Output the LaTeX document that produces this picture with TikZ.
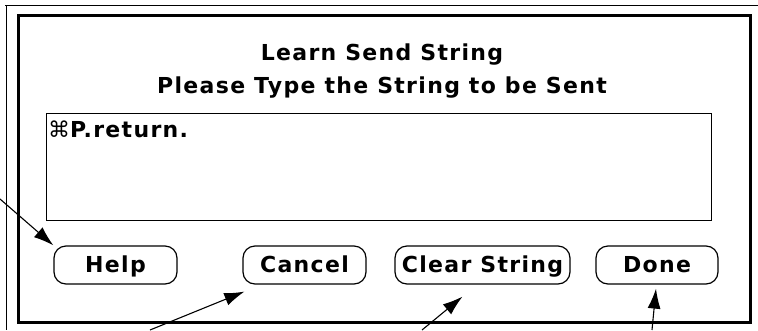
\documentclass[tikz,border=0pt]{standalone}
\usepackage{fontspec}
\usepackage{tikz}
\usetikzlibrary{arrows.meta,calc}
\setmainfont{DejaVu Sans}
\newfontfamily\dlgfont{DejaVu Sans}[LetterSpace=6]
\newfontfamily\cmdfont{DejaVu Sans}

\begin{document}
\begin{tikzpicture}[x=1pt,y=1pt,yscale=-1,
  dlgtext/.style={anchor=base,inner sep=0pt,font=\dlgfont\bfseries\fontsize{22}{24}\selectfont},
  dlgbutton/.style={draw,line width=1.2pt,rounded corners=12pt,minimum height=38pt,inner sep=0pt,
    text height=16pt,text depth=2pt,font=\dlgfont\bfseries\fontsize{22}{24}\selectfont},
  pointer/.style={line width=1.1pt,-{Latex[length=20pt,width=13pt]}}]
\useasboundingbox (0,0) rectangle (758,330);

%Window frame
\draw [line width=0.8pt] (5,5) -- (758,5) ;
\draw [line width=0.8pt] (6,5) -- (6,330) ;
\draw [line width=3pt] (18,15) rectangle (750,322) ;
%Text field
\draw [line width=1pt] (46,113) rectangle (711,220) ;

% Text Node
\node [dlgtext] (title) at (382,60) {Learn Send String};
% Text Node
\node [dlgtext] (prompt) at (382,93) {Please Type the String to be Sent};
% Text Node
\node [dlgtext,anchor=base west] (sendstr) at (48,137) {{\cmdfont\mdseries ⌘}P.return.};

% Buttons
\node [dlgbutton,minimum width=123pt] (help) at (115.5,265) {Help};
\node [dlgbutton,minimum width=123pt] (cancel) at (304.5,265) {Cancel};
\node [dlgbutton,minimum width=175pt] (clear) at (482.5,265) {Clear String};
\node [dlgbutton,minimum width=122pt] (done) at (657,265) {Done};

%Pointers
\coordinate (helptail) at (0,199);
\coordinate (canceltail) at (150,330);
\coordinate (cleartail) at (422,330);
\coordinate (donetail) at (652,330);
\draw [pointer] (helptail) -- (help.north west) ;
\draw [pointer] (canceltail) -- ($(cancel.south west)+(2,7)$) ;
\draw [pointer] (cleartail) -- ($(clear.south)+(-20,12)$) ;
\draw [pointer] (donetail) -- ($(done.south)+(-1,4)$) ;

\end{tikzpicture}
\end{document}
